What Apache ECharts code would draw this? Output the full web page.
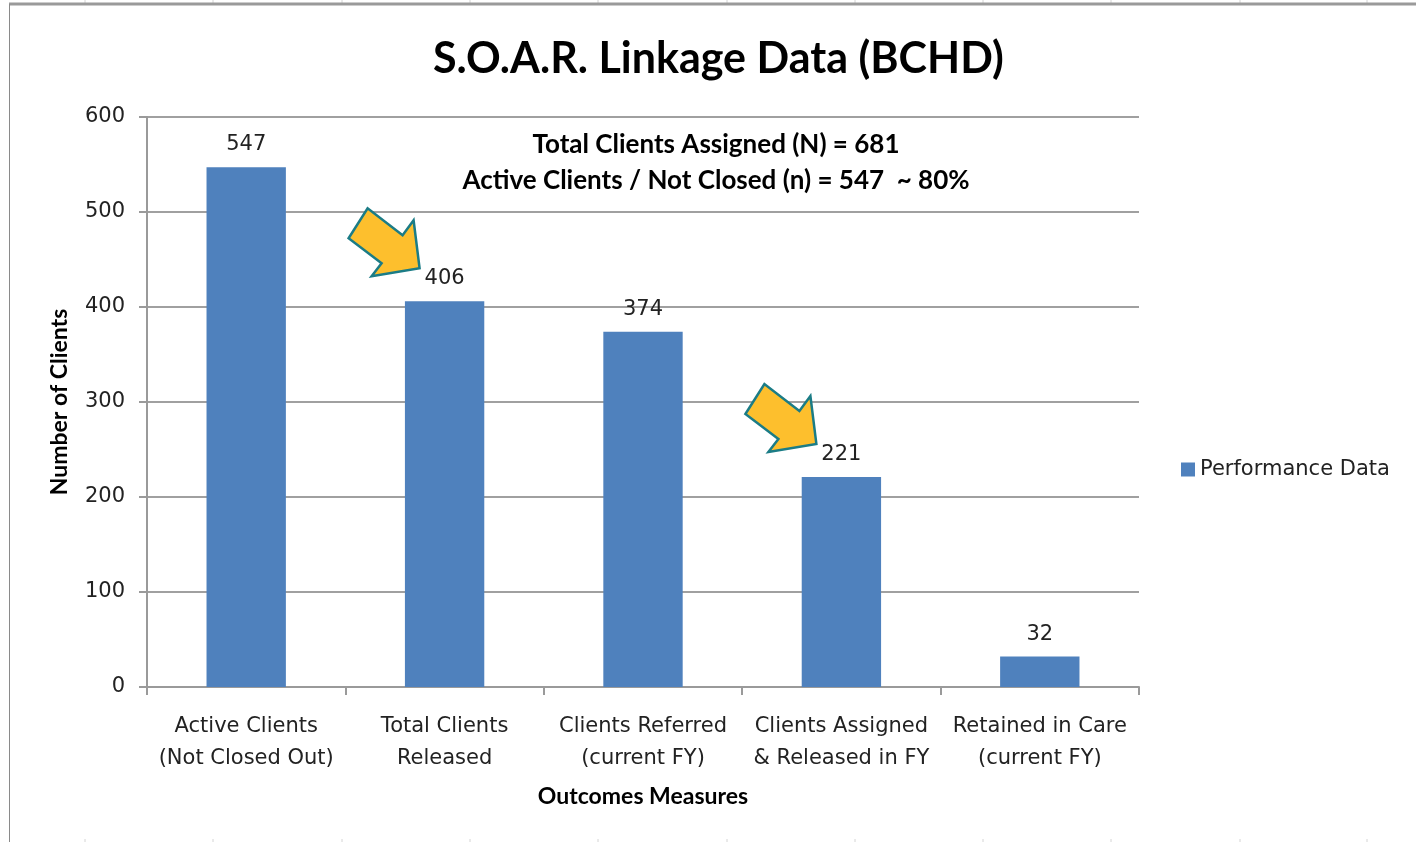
<!DOCTYPE html>
<html>
<head>
<meta charset="utf-8">
<script src="https://cdn.jsdelivr.net/npm/echarts@6/dist/echarts.min.js"></script>
<style>
  html, body { margin: 0; padding: 0; background: #fff; }
  #chart { width: 1416px; height: 842px; }
</style>
</head>
<body>
<div id="chart"></div>
<script>
var categories = ['Active Clients\n(Not Closed Out)', 'Total Clients\nReleased', 'Clients Referred\n(current FY)', 'Clients Assigned\n& Released in FY', 'Retained in Care\n(current FY)'];
var performance = [547, 406, 374, 221, 32];
var yMin = 0, yMax = 600, yStep = 100;
var notes = ['Total Clients Assigned (N) = 681', 'Active Clients / Not Closed (n) = 547  ~ 80%'];
var arrowAt = [1, 3]; // bars that get the yellow arrow

var boldFont = 'Lato, "Open Sans", sans-serif';
var bodyFont = '"DejaVu Sans", Verdana, sans-serif';

var myChart = echarts.init(document.getElementById('chart'));

// spreadsheet column lines peeking out above the chart frame
var sheetCols = [85, 213, 342, 470, 598, 727, 855, 983, 1111, 1240, 1367];
var frame = [];
sheetCols.forEach(function (x) {
    frame.push({ type: 'line', shape: { x1: x, y1: 0, x2: x, y2: 4 }, style: { stroke: '#d4d4d4', lineWidth: 1 }, silent: true });
    frame.push({ type: 'line', shape: { x1: x, y1: 839, x2: x, y2: 842 }, style: { stroke: '#d4d4d4', lineWidth: 1 }, silent: true });
});
frame.push({ type: 'line', shape: { x1: 9, y1: 4, x2: 1416, y2: 4 }, style: { stroke: '#9a9a9a', lineWidth: 3 }, silent: true });
frame.push({ type: 'line', shape: { x1: 9.5, y1: 4, x2: 9.5, y2: 842 }, style: { stroke: '#8a8a8a', lineWidth: 1 }, silent: true });

option = {
    animation: false,
    title: {
        text: 'S.O.A.R. Linkage Data (BCHD)',
        left: 428,
        top: 33,
        textStyle: { fontFamily: boldFont, fontSize: 43, fontWeight: 'bold', color: '#000' }
    },
    legend: {
        data: ['Performance Data'],
        orient: 'vertical',
        left: 1176,
        top: 454,
        itemWidth: 14,
        itemHeight: 14,
        itemGap: 8,
        icon: 'rect',
        textStyle: { fontFamily: bodyFont, fontSize: 21, color: '#222' }
    },
    grid: { left: 147, right: 277, top: 117, bottom: 155, containLabel: false },
    xAxis: {
        type: 'category',
        data: categories,
        name: 'Outcomes Measures',
        nameLocation: 'middle',
        nameGap: 98,
        nameTextStyle: { fontFamily: boldFont, fontSize: 23, fontWeight: 'bold', color: '#000' },
        axisLine: { lineStyle: { color: '#9a9a9a', width: 2 } },
        axisTick: { show: true, length: 8, alignWithLabel: false, lineStyle: { color: '#9a9a9a', width: 2 } },
        axisLabel: { fontFamily: bodyFont, fontSize: 21, color: '#222', lineHeight: 32, margin: 24, interval: 0 }
    },
    yAxis: {
        type: 'value',
        min: yMin,
        max: yMax,
        interval: yStep,
        name: 'Number of Clients',
        nameLocation: 'middle',
        nameGap: 76,
        nameTextStyle: { fontFamily: boldFont, fontSize: 23, fontWeight: 'bold', color: '#000' },
        axisLine: { show: true, lineStyle: { color: '#9a9a9a', width: 2 } },
        axisTick: { show: true, length: 8, lineStyle: { color: '#9a9a9a', width: 2 } },
        axisLabel: { fontFamily: bodyFont, fontSize: 21, color: '#222', margin: 22, padding: [3, 0, 0, 0] },
        splitLine: { lineStyle: { color: '#a0a0a0', width: 2 } }
    },
    series: [
        {
            name: 'Performance Data',
            type: 'bar',
            data: performance,
            barWidth: '40%',
            itemStyle: { color: '#4f81bd' },
            label: { show: true, position: 'top', distance: 12, fontFamily: bodyFont, fontSize: 21, color: '#222' }
        }
    ],
    graphic: frame
};
myChart.setOption(option);

// note lines + yellow arrows, placed from the data coordinates
var extra = frame.slice();
notes.forEach(function (t, k) {
    extra.push({
        type: 'text', silent: true,
        style: { text: t, x: 716, y: 132 + k * 36, font: 'bold 26px ' + boldFont, fill: '#000', textAlign: 'center' }
    });
});
var arrowShape = [[0, 0], [-6, -48], [-17, -33], [-52, -60], [-71, -30], [-38, -5], [-48, 8]];
arrowAt.forEach(function (i) {
    var p = myChart.convertToPixel({ seriesIndex: 0 }, [i, performance[i]]);
    var tip = [p[0] - 25, p[1] - 33];
    extra.push({
        type: 'polygon', silent: true,
        shape: { points: arrowShape.map(function (d) { return [tip[0] + d[0], tip[1] + d[1]]; }) },
        style: { fill: '#fdbf2d', stroke: '#1b7c86', lineWidth: 2.5 }
    });
});
myChart.setOption({ graphic: extra }, { replaceMerge: ['graphic'] });
</script>
</body>
</html>
